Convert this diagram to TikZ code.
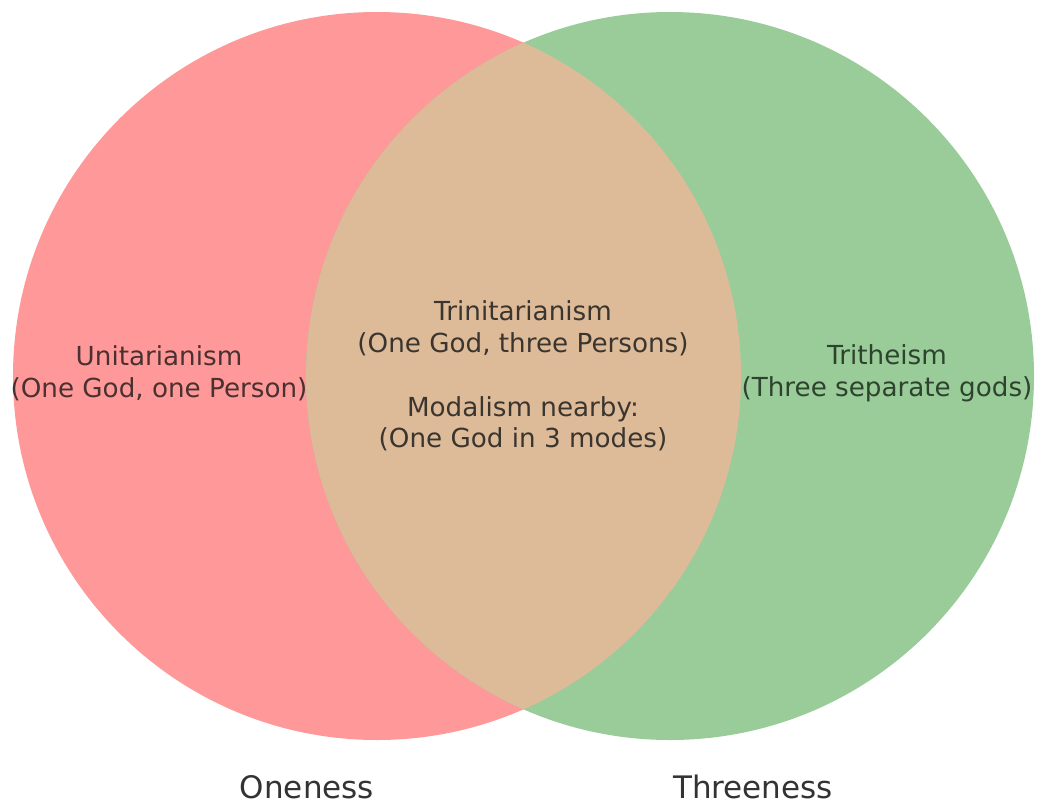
\documentclass[tikz,border=0pt]{standalone}
\usepackage{fontspec}
\setmainfont{DejaVu Sans}
\definecolor{setred}{HTML}{FF9999}
\definecolor{setgreen}{HTML}{99CC99}
\definecolor{setmix}{HTML}{DDBB99}
\definecolor{txtred}{HTML}{4A3030}
\definecolor{txtmid}{HTML}{3A352E}
\definecolor{txtgreen}{HTML}{2E432E}
\definecolor{txtgray}{HTML}{333333}
\begin{document}
\begin{tikzpicture}[x=1pt,y=1pt,
  lbl/.style={align=center,inner sep=0pt,font=\fontsize{26.2}{31.8}\selectfont},
  setname/.style={inner sep=0pt,text=txtgray,font=\fontsize{31}{37}\selectfont}]
\useasboundingbox (0,0) rectangle (1039,-804);
\fill[white] (0,0) rectangle (1039,-804);
\coordinate (cl) at (377,-376);
\coordinate (cr) at (670,-376);
\fill[setred] (cl) circle[radius=364];
\fill[setgreen] (cr) circle[radius=364];
\begin{scope}
  \clip (cl) circle[radius=364];
  \fill[setmix] (cr) circle[radius=364];
\end{scope}
\node[lbl,text=txtred] (uni) at (159,-373) {Unitarianism\\(One God, one Person)};
\node[lbl,text=txtmid] (tri) at (523,-376) {Trinitarianism\\(One God, three Persons)\\[31.8pt]Modalism nearby:\\(One God in 3 modes)};
\node[lbl,text=txtgreen] (trith) at (887,-373) {Tritheism\\(Three separate gods)};
\node[setname] (one) at (307,-787) {Oneness};
\node[setname] (three) at (753,-787) {Threeness};
\end{tikzpicture}
\end{document}
